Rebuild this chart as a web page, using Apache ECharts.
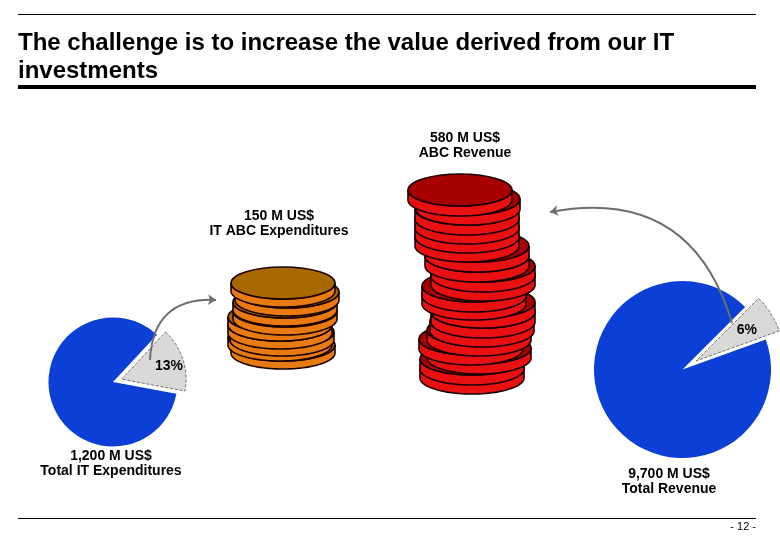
<!DOCTYPE html>
<html><head><meta charset="utf-8">
<style>html,body{margin:0;padding:0;background:#fff}#c{width:780px;height:540px}</style>
<script src="https://cdn.jsdelivr.net/npm/echarts@6/dist/echarts.min.js"></script>
</head><body><div id="c"></div>
<script>
var titleText = 'The challenge is to increase the value derived from our IT\ninvestments';
var pageNumber = '- 12 -';
var itSliceLabels = ['13%', 'Rest'];
var itSliceValues = [16, 84];
var revSliceLabels = ['6%', 'Rest'];
var revSliceValues = [7, 93];
var orangeCoinX = [283,280,282,280,280,285,285,287,283];
var orangeCoinBase = [369,361,356,349,341,335,326,316,307];
var redCoinX = [472,472,479,471,479,482,483,483,474,474,483,483,477,477,467,467,467,467,468,460];
var redCoinBase = [394,385,374,365,356,347,338,328,320,312,301,292,282,272,262,253,244,235,225,216];

function coinData(xs, bases) { return xs.map(function (x, i) { return [x, bases[i]]; }); }

function coinItem(rimColor, topColor, thick) {
  return function (params, api) {
    var p = api.coord([api.value(0), api.value(1)]);
    var s = api.size([1, 1]);
    var rx = 52 * s[0], ry = 16 * s[1], h = thick * s[1];
    var cx = p[0], cy = p[1] - h - ry;
    var pts = [];
    for (var i = 0; i <= 48; i++) {
      var a = Math.PI * i / 48;
      pts.push([cx + rx * Math.cos(a), cy + ry * Math.sin(a)]);
    }
    var rim = pts.map(function (q) { return [q[0], q[1] + h]; }).reverse();
    var outline = [[cx - rx, cy]].concat(rim).concat([[cx + rx, cy]]);
    return {
      type: 'group',
      children: [
        { type: 'polygon', shape: { points: outline.concat(pts) }, style: { fill: rimColor, stroke: '#1a0000', lineWidth: 1.6 } },
        { type: 'ellipse', shape: { cx: cx, cy: cy, rx: rx, ry: ry }, style: { fill: topColor, stroke: '#1a0000', lineWidth: 1.6 } }
      ]
    };
  };
}

function txt(x, y, text, size, align, weight) {
  return { type: 'text', x: x, y: y, style: { text: text, fill: '#000', font: (weight || 'normal') + ' ' + size + 'px "Liberation Sans", Arial, sans-serif', textAlign: align || 'center', textVerticalAlign: 'middle', lineHeight: 15 } };
}
function rule(y, h) {
  return { type: 'rect', shape: { x: 18, y: y, width: 738, height: h }, style: { fill: '#000' } };
}
function pie(center, radius, startAngle, offset, names, values, dx, dy) {
  return {
    type: 'pie', center: center, radius: radius, startAngle: startAngle,
    silent: true, selectedMode: 'multiple', selectedOffset: offset, animation: false,
    label: { show: false }, labelLine: { show: false },
    labelLayout: { dx: dx, dy: dy },
    data: [
      { name: names[0], value: values[0], selected: true,
        itemStyle: { color: '#d9d9d9', borderColor: '#555', borderWidth: 0.8, borderType: 'dashed' },
        label: { show: true, position: 'inside', formatter: '{b}', color: '#000', fontFamily: '"Liberation Sans", Arial, sans-serif', fontSize: 14, fontWeight: 'bold' } },
      { name: names[1], value: values[1], itemStyle: { color: '#0b3fd6' } }
    ]
  };
}

var chart = echarts.init(document.getElementById('c'), null, { renderer: 'canvas' });
chart.setOption({
  animation: false,
  backgroundColor: '#fff',
  grid: { left: 0, top: 0, width: 780, height: 540 },
  xAxis: { type: 'value', min: 0, max: 780, show: false },
  yAxis: { type: 'value', min: 0, max: 540, inverse: true, show: false },
  title: {
    text: titleText, left: 18, top: 29, padding: 0,
    textStyle: { fontFamily: '"Liberation Sans", Arial, sans-serif', fontSize: 24, fontWeight: 'bold', color: '#000', lineHeight: 28 }
  },
  series: [
    pie([113, 382], 64.5, 47, 9, itSliceLabels, itSliceValues, 14, -2),
    pie([682.5, 369.5], 88.5, 45, 16, revSliceLabels, revSliceValues, 11, -5),
    { type: 'custom', data: coinData(orangeCoinX, orangeCoinBase), renderItem: coinItem('#e87a10', '#a86a00', 8), encode: { x: 0, y: 1 }, clip: false, silent: true, z: 3 },
    { type: 'custom', data: coinData(redCoinX, redCoinBase), renderItem: coinItem('#e81010', '#a80000', 10), encode: { x: 0, y: 1 }, clip: false, silent: true, z: 3 },
    { type: 'lines', coordinateSystem: 'cartesian2d', silent: true, z: 5,
      symbol: ['none', 'arrow'], symbolSize: 8,
      lineStyle: { color: '#6e6e6e', width: 2, opacity: 1 },
      data: [
        { coords: [[150, 360], [216, 300]], lineStyle: { curveness: 0.5 } },
        { coords: [[732, 323], [550, 212]], lineStyle: { curveness: -0.45 } }
      ]
    }
  ],
  graphic: { elements: [
    rule(14, 1), rule(85, 4), rule(518, 1),
    txt(465, 146, '580 M US$\nABC Revenue', 14, 'center', 'bold'),
    txt(279, 224, '150 M US$\nIT ABC Expenditures', 14, 'center', 'bold'),
    txt(111, 464, '1,200 M US$\nTotal IT Expenditures', 14, 'center', 'bold'),
    txt(669, 482, '9,700 M US$\nTotal Revenue', 14, 'center', 'bold'),
    txt(756, 527, pageNumber, 11, 'right')
  ] }
});
</script></body></html>
